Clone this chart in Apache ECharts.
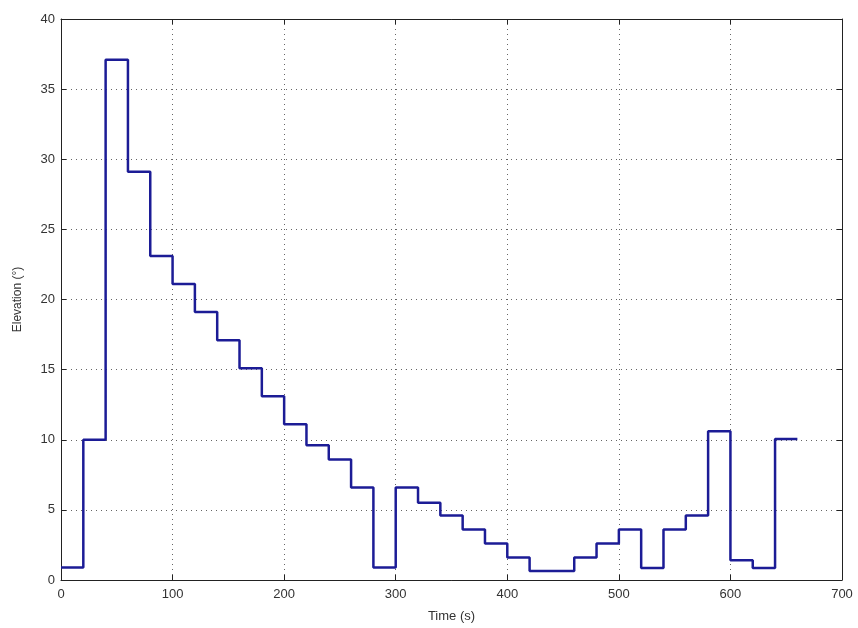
<!DOCTYPE html>
<html><head><meta charset="utf-8">
<script src="https://cdn.jsdelivr.net/npm/echarts@6/dist/echarts.min.js"></script>
<style>html,body{margin:0;padding:0;background:#fff}#c{width:858px;height:628px}</style>
</head><body><div id="c"></div>
<script>
var stepTimes = [0,20,40,60,80,100,120,140,160,180,200,220,240,260,280,300,320,340,360,380,400,420,440,460,480,500,520,540,560,580,600,620,640,660];
var elevation = [0.9,10,37.1,29.1,23.1,21.1,19.1,17.1,15.1,13.1,11.1,9.6,8.6,6.6,0.9,6.6,5.5,4.6,3.6,2.6,1.6,0.65,0.65,1.6,2.6,3.6,0.85,3.6,4.6,10.6,1.4,0.85,10.05,10.05];
var xTicks = [0,100,200,300,400,500,600,700];
var yTicks = [0,5,10,15,20,25,30,35,40];

var chart = echarts.init(document.getElementById('c'));
var data = stepTimes.map(function(t,i){return [t, elevation[i]];});
var font = 'Liberation Sans, Arial, sans-serif';
var gridLine = {show:true, lineStyle:{color:'#666', type:[1,4], width:1}};
var axisBase = {
  axisLine:{show:true, onZero:false, lineStyle:{color:'#222', width:1}},
  axisTick:{show:true, inside:true, length:5, lineStyle:{color:'#222'}},
  axisLabel:{color:'#333', fontSize:13, fontFamily:font}
};
chart.setOption({
  animation:false,
  backgroundColor:'#fff',
  grid:{left:61, right:16, top:19, bottom:46, containLabel:false},
  xAxis:[
    Object.assign({type:'value', min:0, max:700, interval:100, position:'bottom',
      name:'Time (s)', nameLocation:'middle', nameGap:30,
      nameTextStyle:{color:'#333', fontSize:13, fontFamily:font},
      splitLine:gridLine}, axisBase, {axisLabel:{color:'#333', fontSize:13, fontFamily:font, margin:8}}),
    Object.assign({type:'value', min:0, max:700, interval:100, position:'top', splitLine:{show:false}}, axisBase, {axisLabel:{show:false}})
  ],
  yAxis:[
    Object.assign({type:'value', min:0, max:40, interval:5, position:'left',
      name:'Elevation (°)', nameLocation:'middle', nameGap:37, nameRotate:90,
      nameTextStyle:{color:'#333', fontSize:12, fontFamily:font},
      splitLine:gridLine}, axisBase, {axisLabel:{color:'#333', fontSize:13, fontFamily:font, margin:6}}),
    Object.assign({type:'value', min:0, max:40, interval:5, position:'right', splitLine:{show:false}}, axisBase, {axisLabel:{show:false}})
  ],
  series:[{
    type:'line', step:'end', data:data, xAxisIndex:0, yAxisIndex:0,
    showSymbol:false, symbol:'none',
    lineStyle:{color:'#1c1c96', width:2.5}
  }]
});
</script></body></html>
